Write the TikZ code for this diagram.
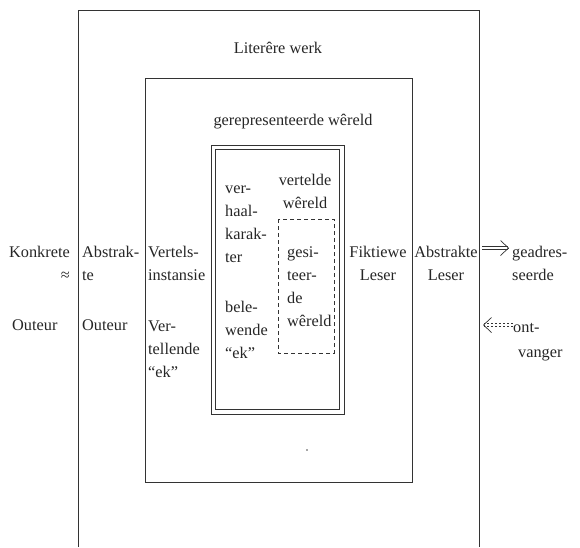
\documentclass[tikz,border=0pt]{standalone}
\usepackage{fontspec}
\setmainfont{Liberation Serif}
\usetikzlibrary{arrows.meta}

\begin{document}
\begin{tikzpicture}[x=1pt,y=-1pt]
\tikzset{frame/.style = {draw=black!80, line width=0.8pt},
  label/.style = {inner sep=0pt, text=black!85, font=\fontsize{16.3}{23}\selectfont, execute at begin node=\strut},
  lbl/.style = {label, align=left, anchor=north west},
  clbl/.style = {label, align=center, anchor=north},
  flow/.style = {black!80, line width=0.7pt, double, double distance=2.6pt},
  flowtip/.style = {black!80, line width=0.7pt, -{Straight Barb[length=8pt, width=15pt]}}}
\useasboundingbox (0,0) rectangle (580,547);

\draw[frame] (78,547) -- (78,10) -- (479,10) -- (479,547);
\draw[frame] (145,78) rectangle (412,482);
\draw[frame, double, double distance=3.6pt] (213.5,147.5) rectangle (342,412);
\draw[frame, dashed, dash pattern=on 4pt off 3pt] (278,219) rectangle (334,353);
\fill[black!70] (307,450) circle (0.9pt);

\node[clbl] (werk) at (278,36.9) {Literêre werk};
\node[clbl] (gerep) at (293,108.9) {gerepresenteerde wêreld};

\node[label, align=right, anchor=north east] (konkrete) at (70,246) {Konkrete\\≈};
\node[lbl] (outeurA) at (12,313.9) {Outeur};
\node[lbl] (abstrak) at (82,246) {Abstrak-\\te};
\node[lbl] (outeurB) at (82,313.9) {Outeur};
\node[lbl] (vertels) at (148,246) {Vertels-\\instansie};
\node[lbl] (vertellend) at (148,321) {Ver-\\tellende\\``ek''};

\node[lbl] (verhaal) at (225,186) {ver-\\haal-\\karak-\\ter};
\node[lbl] (belewend) at (225,301) {bele-\\wende\\``ek''};
\node[clbl] (vertelde) at (305,174) {vertelde\\wêreld};
\node[lbl] (gesiteer) at (287,246) {gesi-\\teer-\\de\\wêreld};

\node[clbl] (fiktief) at (378,246) {Fiktiewe\\Leser};
\node[clbl] (abstrakte) at (446,246) {Abstrakte\\Leser};
\node[lbl] (geadres) at (512,246) {geadres-\\seerde};
\node[lbl] (ont) at (513,315.9) {ont-};
\node[lbl] (vanger) at (518,340.9) {vanger};

\coordinate (uit) at (482,248);
\coordinate (uitpunt) at (509,248);
\coordinate (in) at (483,325);
\draw[flow, shorten >=1pt] (uit) -- (uitpunt);
\draw[flowtip] ([xshift=-1pt]uitpunt) -- (uitpunt);
\draw[flow, dashed, dash pattern=on 2.5pt off 1.5pt, shorten >=1pt] (ont.west |- in) -- (in);
\draw[flowtip] ([xshift=1pt]in) -- (in);

\end{tikzpicture}
\end{document}
